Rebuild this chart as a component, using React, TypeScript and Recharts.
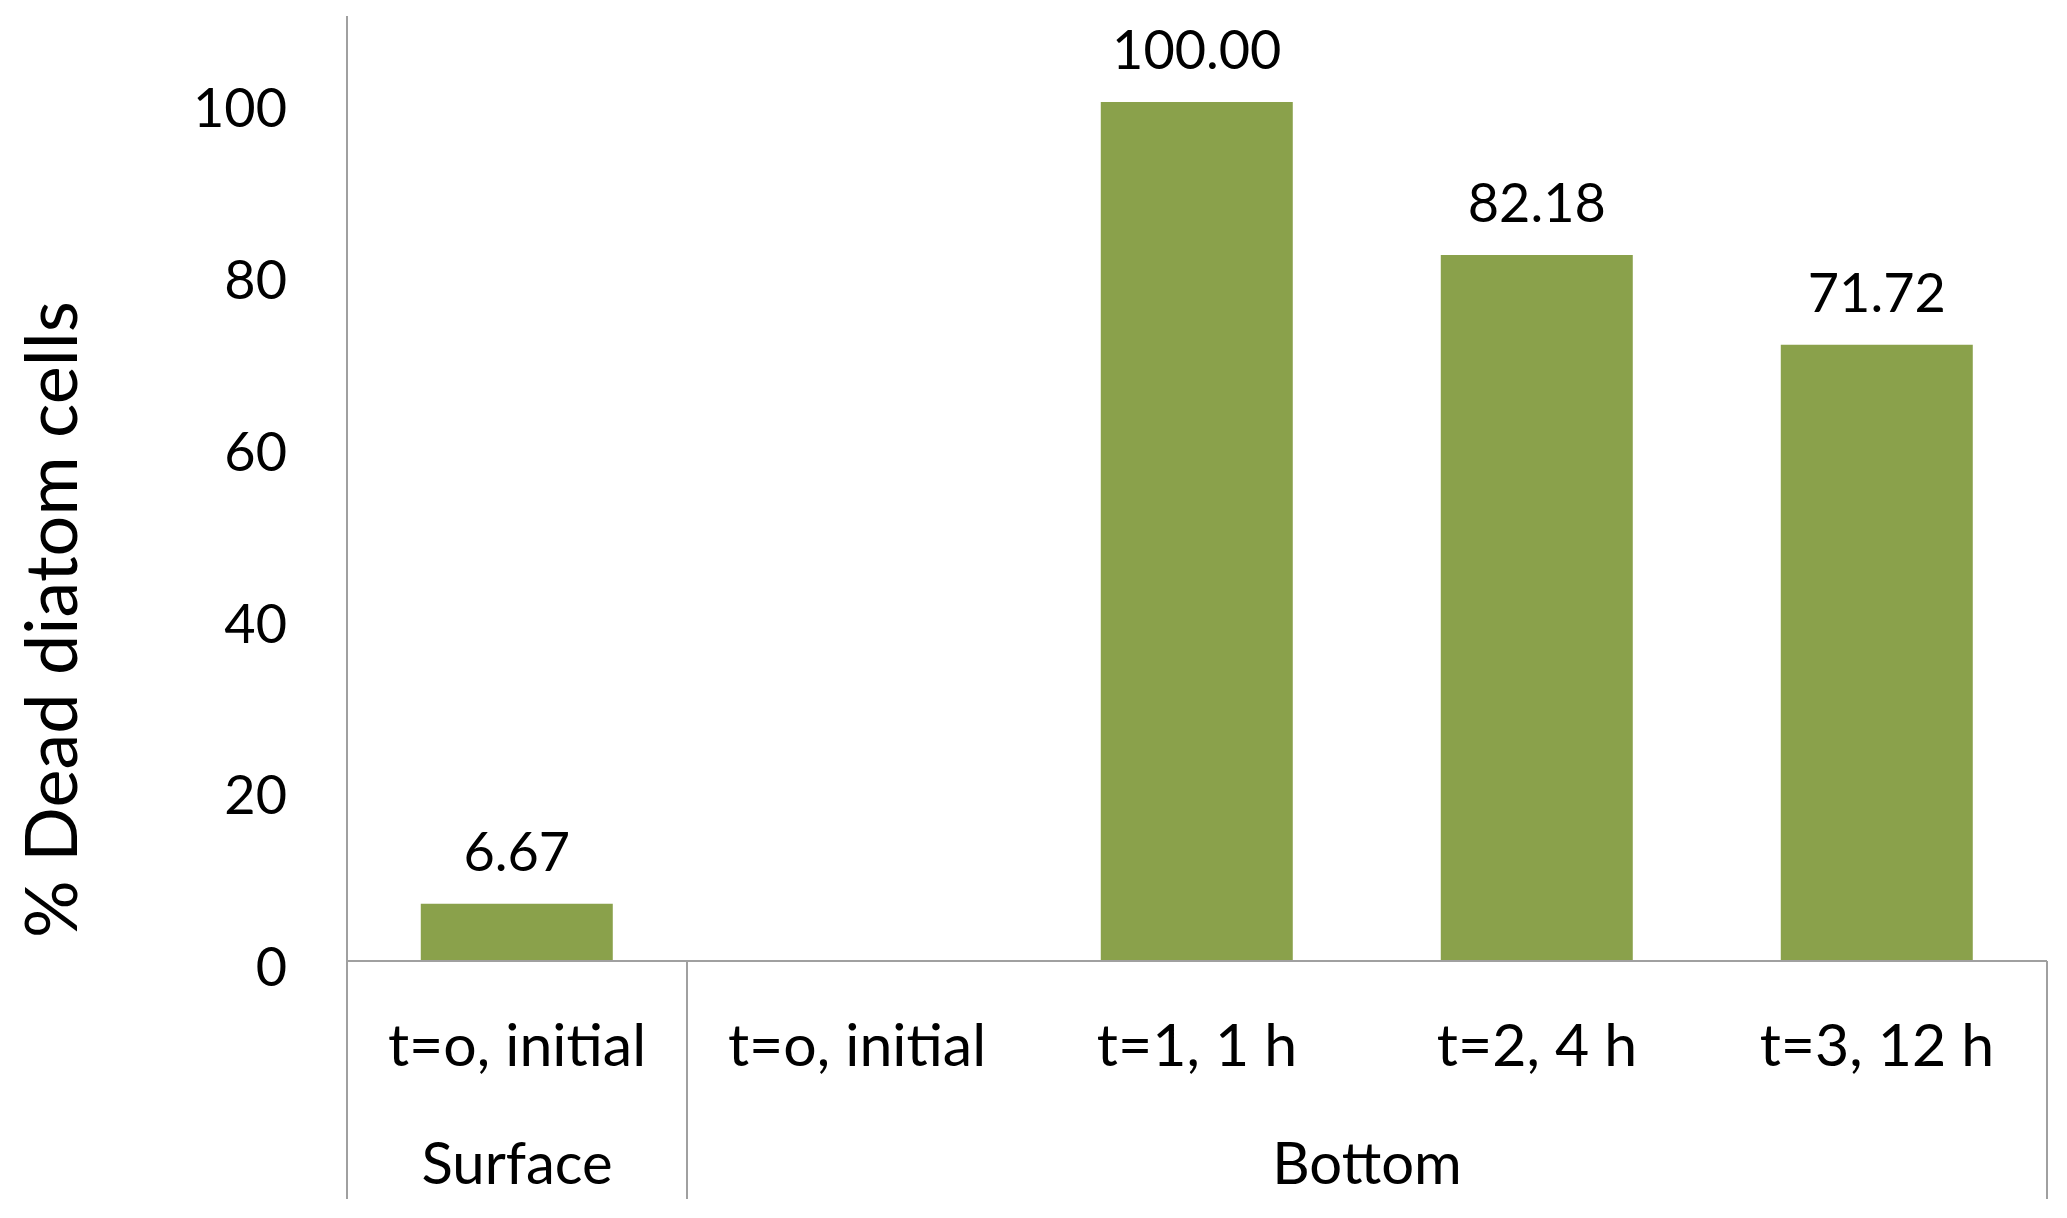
import React from 'react';
import { BarChart, Bar, XAxis, YAxis, LabelList } from 'recharts';

const categories = ['t=o, initial', 't=o, initial', 't=1, 1 h', 't=2, 4 h', 't=3, 12 h'];
const deadCells = [6.67, null, 100.0, 82.18, 71.72];
const groupLabels = ['Surface', 'Bottom'];
const groupSpans = [1, 4];
const yTicks = [0, 20, 40, 60, 80, 100];

const data = categories.map((name, i) => ({ id: i, name, value: deadCells[i] }));

// group boundaries / centres in category units (0..n)
const boundaries = groupSpans.reduce((acc, s) => [...acc, acc[acc.length - 1] + s], [0]);
const groupCentres = groupSpans.map((s, i) => boundaries[i] + s / 2);

const FONT = 'Lato, sans-serif';
const AXIS = '#A0A0A0';
const ROW = 119;

// tick x positions, filled in as the axis renders its ticks left to right
const tickXs: number[] = [];

const CategoryTick = (props: any) => {
  const { x, y, payload, index, visibleTicksCount } = props;
  tickXs[index] = x;
  const last = visibleTicksCount - 1;
  let extra = null;
  if (index === last && last > 0) {
    const bw = (tickXs[last] - tickXs[0]) / last;
    const x0 = tickXs[0] - bw / 2;
    extra = (
      <g>
        {boundaries.map((b) => (
          <line key={`b${b}`} x1={x0 + b * bw} x2={x0 + b * bw} y1={y} y2={y + 2 * ROW} stroke={AXIS} strokeWidth={2} />
        ))}
        {groupCentres.map((c, gi) => (
          <text
            key={`g${gi}`}
            x={x0 + c * bw}
            y={y + ROW + 84}
            dy="0.35em"
            textAnchor="middle"
            fontFamily={FONT}
            fontSize={58}
            fill="#000"
          >
            {groupLabels[gi]}
          </text>
        ))}
      </g>
    );
  }
  return (
    <g>
      <text x={x} y={y + 84} dy="0.35em" textAnchor="middle" fontFamily={FONT} fontSize={59} fill="#000">
        {categories[payload.value]}
      </text>
      {extra}
    </g>
  );
};

const YTitle = (props: any) => {
  const { viewBox } = props;
  const cx = viewBox.x + 49;
  const cy = viewBox.y + viewBox.height / 2 + 131;
  return (
    <text
      x={cx}
      y={cy}
      transform={`rotate(-90, ${cx}, ${cy})`}
      textAnchor="middle"
      dominantBaseline="central"
      fontFamily={FONT}
      fontSize={72}
      fill="#000"
    >
      % Dead diatom cells
    </text>
  );
};

export default function App() {
  return (
    <div style={{ position: 'absolute', left: 0, top: 0, background: '#fff' }}>
      <BarChart
        width={2067}
        height={1218}
        data={data}
        margin={{ top: 16, right: 20, bottom: 19, left: 0 }}
        barCategoryGap="21.7%"
      >
        <XAxis
          dataKey="id"
          type="category"
          height={2 * ROW}
          axisLine={{ stroke: AXIS, strokeWidth: 2 }}
          tickLine={false}
          tickSize={0}
          tickMargin={0}
          interval={0}
          tick={<CategoryTick />}
        />
        <YAxis
          domain={[0, 110]}
          ticks={yTicks}
          width={347}
          axisLine={{ stroke: AXIS, strokeWidth: 2 }}
          tickLine={false}
          tickSize={0}
          tickMargin={60}
          tick={{ fill: '#000', fontSize: 54, fontFamily: FONT, dy: 6 }}
          label={{ content: <YTitle /> }}
        />
        <Bar dataKey="value" fill="#8AA14B" isAnimationActive={false}>
          <LabelList
            dataKey="value"
            position="top"
            offset={33}
            fill="#000"
            fontSize={54}
            fontFamily={FONT}
            formatter={(v: any) => (v == null ? '' : Number(v).toFixed(2))}
          />
        </Bar>
      </BarChart>
    </div>
  );
}
